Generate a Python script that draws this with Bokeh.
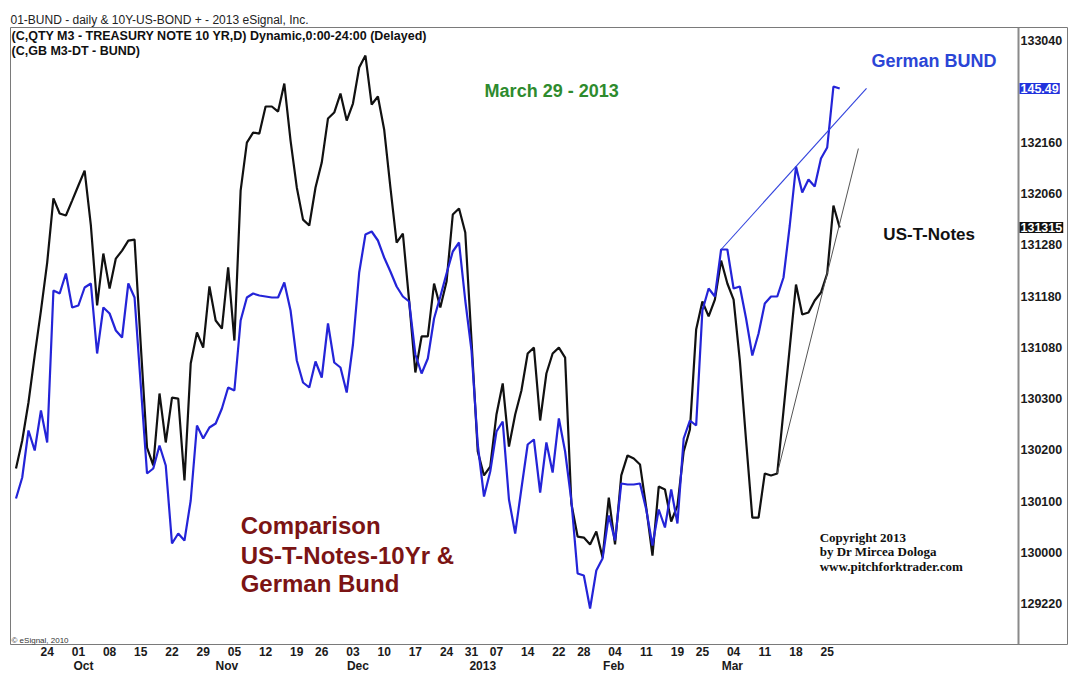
import pandas as pd
from bokeh.plotting import figure
from bokeh.models import Range1d, FixedTicker, Label, LinearAxis
from bokeh.embed import file_html
from bokeh.resources import INLINE

# ---------------- data ----------------
holidays = ["2012-11-22", "2012-12-25", "2013-01-01", "2013-01-21", "2013-02-18"]
days = [d for d in pd.bdate_range("2012-09-17", "2013-03-27")
        if d.strftime("%Y-%m-%d") not in holidays]

# US 10Y T-Note futures (price in points)
notes = [130.511, 130.682, 130.914, 131.201, 131.475, 131.768, 132.159, 132.067, 132.055, 132.146,
         132.238, 132.329, 131.994, 131.506, 131.823, 131.609, 131.792, 131.841, 131.902, 131.908,
         131.262, 130.639, 130.530, 130.969, 130.670, 130.944, 130.938, 130.438, 131.152, 131.341,
         131.249, 131.622, 131.414, 131.365, 131.738, 131.292, 132.207, 132.500, 132.561, 132.555,
         132.720, 132.720, 132.689, 132.860, 132.512, 132.226, 132.030, 131.994, 132.226, 132.378,
         132.647, 132.683, 132.799, 132.634, 132.738, 132.958, 133.031, 132.732, 132.781, 132.580,
         132.226, 131.890, 131.945, 131.536, 131.097, 131.317, 131.317, 131.640, 131.494, 131.652,
         132.061, 132.098, 131.951, 131.292, 130.615, 130.469, 130.523, 130.841, 131.030, 130.645,
         130.841, 130.987, 131.213, 131.249, 130.804, 131.091, 131.213, 131.249, 131.188, 130.298,
         130.096, 130.090, 130.048, 130.127, 129.968, 130.334, 130.048, 130.469, 130.591, 130.572,
         130.536, 130.273, 129.980, 130.401, 130.383, 130.188, 130.285, 130.615, 130.749, 131.359,
         131.530, 131.439, 131.542, 131.780, 131.640, 131.542, 131.170, 130.682, 130.212, 130.212,
         130.481, 130.469, 130.481, 130.865, 131.249, 131.634, 131.451, 131.463, 131.536, 131.585,
         131.701, 132.116, 131.982]

# German Bund futures
bund = [141.39, 141.60, 142.07, 141.87, 142.27, 141.95, 143.47, 143.44, 143.64, 143.30,
        143.32, 143.50, 143.54, 142.84, 143.30, 143.24, 143.07, 143.00, 143.54, 143.40,
        142.52, 141.64, 141.69, 141.92, 141.72, 140.94, 141.04, 140.97, 141.37, 142.12,
        141.99, 142.10, 142.14, 142.29, 142.50, 142.47, 143.17, 143.40, 143.44, 143.42,
        143.41, 143.40, 143.40, 143.55, 143.27, 142.77, 142.55, 142.50, 142.76, 142.60,
        143.14, 142.75, 142.70, 142.45, 142.93, 143.65, 144.03, 144.06, 143.97, 143.80,
        143.66, 143.51, 143.41, 143.36, 142.83, 142.64, 142.79, 143.19, 143.41, 143.64,
        143.86, 143.95, 143.37, 142.87, 141.93, 141.41, 141.66, 142.06, 142.16, 141.38,
        141.04, 141.49, 141.93, 141.98, 141.45, 141.95, 141.65, 142.19, 141.86, 141.37,
        140.64, 140.62, 140.29, 140.67, 140.79, 141.22, 140.97, 141.54, 141.53, 141.53,
        141.54, 141.28, 140.92, 141.28, 141.10, 141.48, 141.14, 141.99, 142.17, 142.12,
        143.27, 143.49, 143.41, 143.88, 143.88, 143.49, 143.51, 143.19, 142.82, 143.04,
        143.34, 143.41, 143.41, 143.60, 144.12, 144.71, 144.45, 144.58, 144.51, 144.79,
        144.90, 145.51, 145.49]

tick_dates = ["2012-09-24", "2012-10-01", "2012-10-08", "2012-10-15", "2012-10-22", "2012-10-29",
              "2012-11-05", "2012-11-12", "2012-11-19", "2012-11-26", "2012-12-03", "2012-12-10",
              "2012-12-17", "2012-12-24", "2012-12-31", "2013-01-07", "2013-01-14", "2013-01-22",
              "2013-01-28", "2013-02-04", "2013-02-11", "2013-02-19", "2013-02-25", "2013-03-04",
              "2013-03-11", "2013-03-18", "2013-03-25"]
month_dates = ["2012-10-01", "2012-11-01", "2012-12-03", "2013-01-02", "2013-02-01", "2013-03-01"]
month_labels = ["Oct", "Nov", "Dec", "2013", "Feb", "Mar"]

# right axis price levels (points, 32nds)
price_levels = [(129, 22), (130, 0), (130, 10), (130, 20), (130, 30), (131, 8),
                (131, 18), (131, 28), (132, 6), (132, 16), (133, 4)]

# trend lines: two anchor indices and the index where the line ends
bund_trend = (113, 125, 136.3)
notes_trend = (122, 130, 135.0)

# ---------------- figure ----------------
date_str = [d.strftime("%Y-%m-%d") for d in days]
x = list(range(len(days)))

X0, XAX, X1 = -0.88, 160.66, 168.67     # left edge, price-scale line, right edge
Y0, Y1 = 129.4374, 133.202

p = figure(width=1068, height=675, output_backend="svg", toolbar_location=None,
           x_range=Range1d(X0, X1), y_range=Range1d(Y0, Y1),
           y_axis_location="right", min_border_left=10, min_border_right=0,
           min_border_bottom=31, min_border_top=27)
p.extra_y_ranges = {"bund": Range1d(139.93, 146.10)}

p.background_fill_color = "white"
p.border_fill_color = "white"
p.outline_line_color = "#7a7a7a"
p.outline_line_width = 1
p.grid.visible = False

p.title.text = "01-BUND - daily & 10Y-US-BOND + - 2013 eSignal, Inc."
p.title.text_font = "Liberation Sans"
p.title.text_font_size = "12px"
p.title.text_font_style = "normal"
p.title.text_color = "#222222"
p.title.offset = 0
p.title.standoff = 2

axis_style = dict(major_tick_line_color=None, minor_tick_line_color=None,
                  major_tick_out=0, major_tick_in=0, minor_tick_out=0, minor_tick_in=0,
                  axis_line_color=None, major_label_text_font="Liberation Sans",
                  major_label_text_font_style="bold", major_label_text_font_size="12px",
                  major_label_text_color="#1a1a1a")

# x axis: day numbers
tick_idx = [date_str.index(d) for d in tick_dates]
xa = p.xaxis[0]
xa.update(ticker=FixedTicker(ticks=tick_idx),
          major_label_overrides={i: days[i].strftime("%d") for i in tick_idx},
          major_label_standoff=2, **axis_style)

# second x axis: month names
month_ticks = [date_str.index(d) + 0.8 for d in month_dates]
ma = LinearAxis(ticker=FixedTicker(ticks=month_ticks),
                major_label_overrides=dict(zip(month_ticks, month_labels)),
                major_label_standoff=0, **axis_style)
p.add_layout(ma, "below")

# y axis (right), drawn at the price-scale line
ticks_y = [w + n / 32 for w, n in price_levels]
ya = p.yaxis[0]
ya.update(**axis_style)
ya.fixed_location = XAX
ya.ticker = FixedTicker(ticks=ticks_y)
ya.major_label_overrides = {w + n / 32: f"{w}{n:02d}0" for w, n in price_levels}
ya.axis_line_color = "#8a8a8a"
ya.axis_line_width = 2
ya.major_label_standoff = 2
ya.major_label_text_font_size = "12.5px"

# series
p.line(x, notes, line_color="#111111", line_width=2.2)
p.line(x, bund, line_color="#2424d8", line_width=2.2, y_range_name="bund")

# trend lines
a, b, e = bund_trend
s = (bund[b] - bund[a]) / (b - a)
p.line([a, e], [bund[a], bund[a] + s * (e - a)], line_color="#3344dd", line_width=1.1,
       y_range_name="bund")
a, b, e = notes_trend
s = (notes[b] - notes[a]) / (b - a)
p.line([a, e], [notes[a], notes[a] + s * (e - a)], line_color="#555555", line_width=1.0)


def lab(xv, yv, text, size, color, style="bold", font="Liberation Sans", **kw):
    p.add_layout(Label(x=xv, y=yv, text=text, text_font=font, text_font_size=size,
                       text_font_style=style, text_color=color, text_baseline="middle", **kw))


lab(X0, 133.153, "(C,QTY M3 - TREASURY NOTE 10 YR,D) Dynamic,0:00-24:00 (Delayed)",
    "12.5px", "#111111", x_offset=1)
lab(X0, 133.061, "(C,GB M3-DT - BUND)", "12.5px", "#111111", x_offset=1)
lab(75.1, 132.817, "March 29 - 2013", "18px", "#2e8b2e")
lab(137.1, 133.000, "German BUND", "18px", "#2b45d6")
lab(139.0, 131.939, "US-T-Notes", "17px", "#111111")
lab(36.0, 130.163, "Comparison", "24px", "#7b1414")
lab(36.0, 129.980, "US-T-Notes-10Yr &", "24px", "#7b1414")
lab(36.0, 129.809, "German Bund", "24px", "#7b1414")
lab(128.8, 130.090, "Copyright 2013", "13px", "#111111", font="Liberation Serif")
lab(128.8, 130.005, "by Dr Mircea Dologa", "13px", "#111111", font="Liberation Serif")
lab(128.8, 129.913, "www.pitchforktrader.com", "13px", "#111111", font="Liberation Serif")
lab(X0, 129.462, "\u00a9 eSignal, 2010", "8px", "#333333", style="normal", x_offset=1)

# last-price tags on the price scale
frac = round((notes[-1] - int(notes[-1])) * 64) / 2
notes_tag = f"{int(notes[-1])}{int(frac):02d}{int(round((frac % 1) * 10))}"
p.add_layout(Label(x=XAX, y=bund[-1], y_range_name="bund", x_offset=1,
                   text=f"{bund[-1]:.2f}", text_baseline="middle", text_font="Liberation Sans",
                   text_font_style="bold", text_font_size="12.5px", text_color="white",
                   background_fill_color="#2233dd", padding=1))
p.add_layout(Label(x=XAX, y=notes[-1], x_offset=1, text=notes_tag,
                   text_baseline="middle", text_font="Liberation Sans",
                   text_font_style="bold", text_font_size="12.5px", text_color="white",
                   background_fill_color="#111111", padding=1))

open("out.html", "w").write(file_html(p, INLINE))
